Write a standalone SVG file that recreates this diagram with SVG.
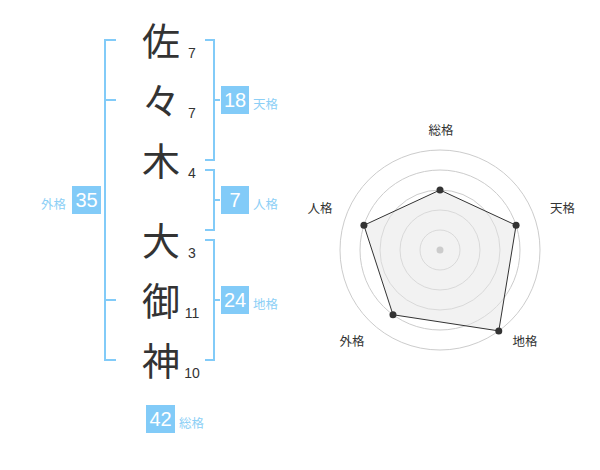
<svg xmlns="http://www.w3.org/2000/svg" width="600" height="470" viewBox="0 0 600 470">
<style>
.kanji{font-family:"Noto Sans CJK JP","Noto Sans CJK SC",sans-serif;font-size:38px;fill:#333;text-anchor:middle}
.num{font-family:"Liberation Sans",Arial,sans-serif;font-size:14px;fill:#333;text-anchor:middle}
.box{fill:#82cbf8}
.boxnum{font-family:"Liberation Sans",Arial,sans-serif;font-size:20px;fill:#fff;text-anchor:middle}
.lbl{font-family:"Noto Sans CJK JP","Noto Sans CJK SC",sans-serif;font-size:12.5px;fill:#8ccff6}
.br{fill:none;stroke:#82cbf8;stroke-width:2}
.ring{fill:none;stroke:#cccccc;stroke-width:1}
.axis{font-family:"Noto Sans CJK JP","Noto Sans CJK SC",sans-serif;font-size:12.5px;fill:#333;text-anchor:middle}
.pt{fill:#333}
</style>
<rect width="600" height="470" fill="#fff"/>
<g id="connectors">
<path class="br" d="M116,40 H105 V360 H116 M105,100 H116 M105,300 H116"/>
<path class="br" d="M205,40 H214 V160 H205 M214,100 H220"/>
<path class="br" d="M205,170 H214 V230 H205 M214,200 H220"/>
<path class="br" d="M205,240 H214 V360 H205 M214,300 H220"/>
</g>
<g id="char1"><text class="kanji" x="161" y="54.5">佐</text><text class="num" x="192" y="58">7</text></g>
<g id="char2"><text class="kanji" x="161" y="114.5">々</text><text class="num" x="192" y="118">7</text></g>
<g id="char3"><text class="kanji" x="161" y="174.5">木</text><text class="num" x="192" y="178">4</text></g>
<g id="char4"><text class="kanji" x="161" y="254.5">大</text><text class="num" x="192" y="258">3</text></g>
<g id="char5"><text class="kanji" x="161" y="314.5">御</text><text class="num" x="192" y="318">11</text></g>
<g id="char6"><text class="kanji" x="161" y="374.5">神</text><text class="num" x="192" y="378">10</text></g>
<g id="tenkaku"><rect class="box" x="221" y="86" width="28" height="28"/><text class="boxnum" x="235" y="107">18</text><text class="lbl" x="253" y="109">天格</text></g>
<g id="jinkaku"><rect class="box" x="221" y="186" width="28" height="28"/><text class="boxnum" x="235" y="207">7</text><text class="lbl" x="253" y="209">人格</text></g>
<g id="chikaku"><rect class="box" x="221" y="286" width="28" height="28"/><text class="boxnum" x="235" y="307">24</text><text class="lbl" x="253" y="309">地格</text></g>
<g id="gaikaku"><rect class="box" x="72" y="186" width="29" height="28"/><text class="boxnum" x="86.5" y="207">35</text><text class="lbl" x="41" y="209">外格</text></g>
<g id="soukaku"><rect class="box" x="146" y="405" width="29" height="28"/><text class="boxnum" x="160.5" y="426">42</text><text class="lbl" x="179" y="428">総格</text></g>
<g id="radar">
<circle class="ring" cx="440" cy="250" r="20"/>
<circle class="ring" cx="440" cy="250" r="40"/>
<circle class="ring" cx="440" cy="250" r="60"/>
<circle class="ring" cx="440" cy="250" r="80"/>
<circle class="ring" cx="440" cy="250" r="100"/>
<polygon points="440,190 516.08,225.28 498.78,330.9 392.98,314.72 363.92,225.28" fill="#e6e6e6" fill-opacity="0.5" stroke="#333" stroke-width="1"/>
<circle cx="440" cy="250" r="3.5" fill="#cccccc"/>
<circle class="pt" cx="440" cy="190" r="3.5"/>
<circle class="pt" cx="516.08" cy="225.28" r="3.5"/>
<circle class="pt" cx="498.78" cy="330.9" r="3.5"/>
<circle class="pt" cx="392.98" cy="314.72" r="3.5"/>
<circle class="pt" cx="363.92" cy="225.28" r="3.5"/>
<text class="axis" x="441" y="134.5">総格</text>
<text class="axis" x="562.5" y="212.5">天格</text>
<text class="axis" x="525" y="346">地格</text>
<text class="axis" x="352" y="346">外格</text>
<text class="axis" x="320" y="212.5">人格</text>
</g>
</svg>
